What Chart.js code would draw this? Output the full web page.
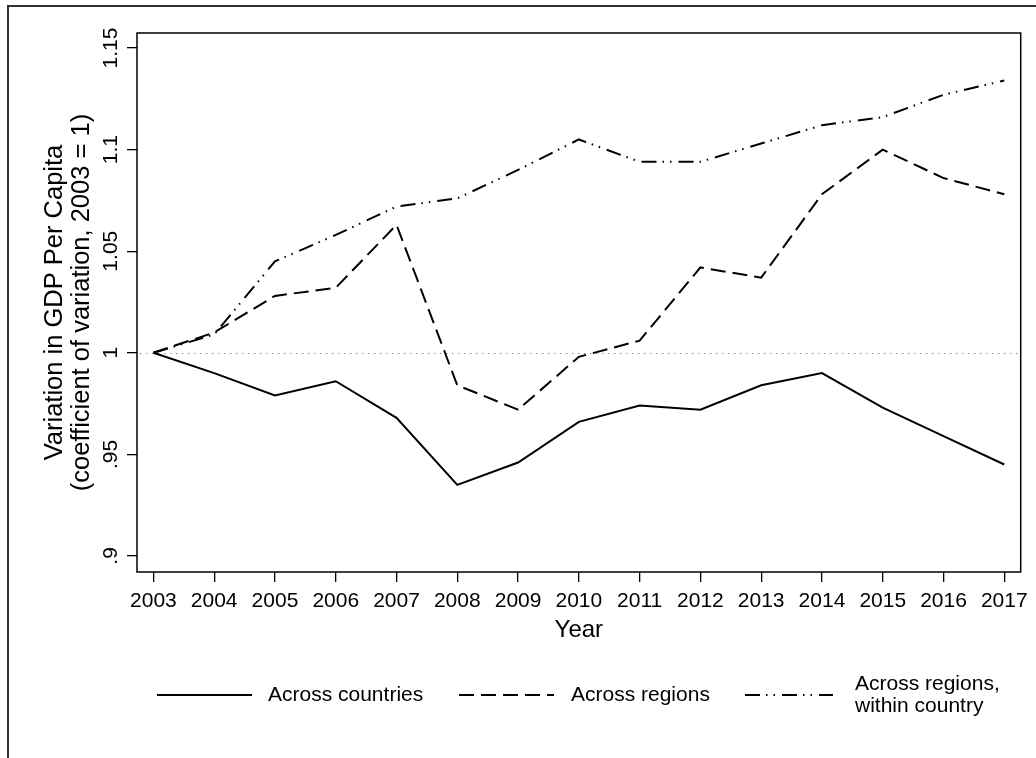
<!DOCTYPE html>
<html>
<head>
<meta charset="utf-8">
<script src="https://cdn.jsdelivr.net/npm/chart.js@4.4.1/dist/chart.umd.min.js"></script>
<style>
  html, body { margin: 0; padding: 0; background: #fff; }
  canvas { display: block; }
</style>
</head>
<body>
<canvas id="c" width="1036" height="758"></canvas>
<script>
// ---- data ----
const years = [2003, 2004, 2005, 2006, 2007, 2008, 2009, 2010, 2011, 2012, 2013, 2014, 2015, 2016, 2017];
const acrossCountries = [1.000, 0.990, 0.979, 0.986, 0.968, 0.935, 0.946, 0.966, 0.974, 0.972, 0.984, 0.990, 0.973, 0.959, 0.945];
const acrossRegions   = [1.000, 1.010, 1.028, 1.032, 1.063, 0.984, 0.972, 0.998, 1.006, 1.042, 1.037, 1.078, 1.100, 1.086, 1.078];
const withinCountry   = [1.000, 1.009, 1.045, 1.058, 1.072, 1.076, 1.090, 1.105, 1.094, 1.094, 1.103, 1.112, 1.116, 1.127, 1.134];
const seriesLabels = [['Across countries'], ['Across regions'], ['Across regions,', 'within country']];
const yTicks = [0.9, 0.95, 1.0, 1.05, 1.1, 1.15];
const xTicks = years;
const referenceValue = 1;
const yTitle = ['Variation in GDP Per Capita', '(coefficient of variation, 2003 = 1)'];
const xTitle = 'Year';

const FONT = '"Liberation Sans", Arial, Helvetica, sans-serif';

function pts(vals) { return years.map((y, i) => ({ x: y, y: vals[i] })); }
function fmtY(v) {
  let s = String(Math.round(v * 100) / 100);
  if (s.startsWith('0.')) s = s.slice(1);
  return s;
}

const styles = [
  { borderDash: [] },
  { borderDash: [15, 7] },
  { borderDash: [15, 6, 1.5, 6, 1.5, 7] }
];

const datasets = [acrossCountries, acrossRegions, withinCountry].map((vals, i) => ({
  label: seriesLabels[i].join(' '),
  data: pts(vals),
  borderColor: '#000',
  borderWidth: 2,
  borderDash: styles[i].borderDash,
  pointRadius: 0,
  tension: 0,
  fill: false
}));

const framePlugin = {
  id: 'frame',
  beforeDraw(chart) {
    const ctx = chart.ctx;
    ctx.save();
    ctx.fillStyle = '#fff';
    ctx.fillRect(0, 0, chart.width, chart.height);
    // outer figure border (left & top visible)
    ctx.strokeStyle = '#333';
    ctx.lineWidth = 2;
    ctx.beginPath();
    ctx.moveTo(8, chart.height + 2);
    ctx.lineTo(8, 6);
    ctx.lineTo(chart.width + 2, 6);
    ctx.stroke();
    // reference dotted line
    const a = chart.chartArea;
    const yp = chart.scales.y.getPixelForValue(referenceValue);
    ctx.strokeStyle = '#808080';
    ctx.lineWidth = 1;
    ctx.setLineDash([1.3, 4.7]);
    ctx.beginPath();
    ctx.moveTo(a.left + 3, Math.round(yp) + 0.5);
    ctx.lineTo(a.right, Math.round(yp) + 0.5);
    ctx.stroke();
    ctx.restore();
  },
  afterDraw(chart) {
    const ctx = chart.ctx;
    const a = chart.chartArea;
    ctx.save();
    ctx.strokeStyle = '#000';
    ctx.lineWidth = 1.5;
    ctx.strokeRect(a.left, a.top, a.right - a.left, a.bottom - a.top);
    // legend
    const entries = [
      { x0: 157, x1: 252, tx: 268 },
      { x0: 459, x1: 554, tx: 571 },
      { x0: 745, x1: 833, tx: 855 }
    ];
    const ly = 695;
    ctx.font = '21px ' + FONT;
    ctx.textBaseline = 'middle';
    ctx.textAlign = 'left';
    ctx.fillStyle = '#000';
    chart.data.datasets.forEach((ds, i) => {
      const e = entries[i];
      ctx.strokeStyle = '#000';
      ctx.lineWidth = 2;
      ctx.setLineDash(ds.borderDash || []);
      ctx.beginPath();
      ctx.moveTo(e.x0, ly);
      ctx.lineTo(e.x1, ly);
      ctx.stroke();
      ctx.setLineDash([]);
      const lines = seriesLabels[i];
      const lh = 22;
      const start = ly - (lines.length - 1) * lh / 2;
      lines.forEach((t, j) => ctx.fillText(t, e.tx, start + j * lh));
    });
    ctx.restore();
  }
};

new Chart(document.getElementById('c'), {
  type: 'line',
  data: { datasets },
  plugins: [framePlugin],
  options: {
    responsive: false,
    devicePixelRatio: 1,
    animation: false,
    layout: { padding: { left: 0, top: 33, right: 15.3, bottom: 106 } },
    plugins: { legend: { display: false }, tooltip: { enabled: false } },
    scales: {
      x: {
        type: 'linear',
        min: 2002.73,
        max: 2017.27,
        afterBuildTicks: s => { s.ticks = xTicks.map(v => ({ value: v })); },
        afterFit: s => { s.height = 80; },
        grid: { display: true, drawOnChartArea: false, drawTicks: true, tickLength: 10, tickColor: '#000', lineWidth: 1.3 },
        border: { display: false },
        ticks: {
          autoSkip: false, maxRotation: 0, minRotation: 0, padding: 7,
          color: '#000', font: { family: FONT, size: 21 },
          callback: v => String(v)
        },
        title: {
          display: true, text: xTitle, color: '#000',
          font: { family: FONT, size: 24 },
          padding: { top: 0, bottom: 7.6 }
        }
      },
      y: {
        type: 'linear',
        min: 0.8921,
        max: 1.1574,
        afterBuildTicks: s => { s.ticks = yTicks.map(v => ({ value: v })); },
        afterFit: s => { s.width = 137; },
        grid: { display: true, drawOnChartArea: false, drawTicks: true, tickLength: 10, tickColor: '#000', lineWidth: 1.3 },
        border: { display: false },
        ticks: {
          autoSkip: false, minRotation: 90, maxRotation: 90, crossAlign: 'center', padding: -4.5,
          color: '#000', font: { family: FONT, size: 21 },
          callback: v => fmtY(v)
        },
        title: {
          display: true, text: yTitle, color: '#000',
          font: { family: FONT, size: 25.5, lineHeight: 1.08 },
          padding: { top: 41, bottom: 0 }
        }
      }
    }
  }
});
</script>
</body>
</html>
